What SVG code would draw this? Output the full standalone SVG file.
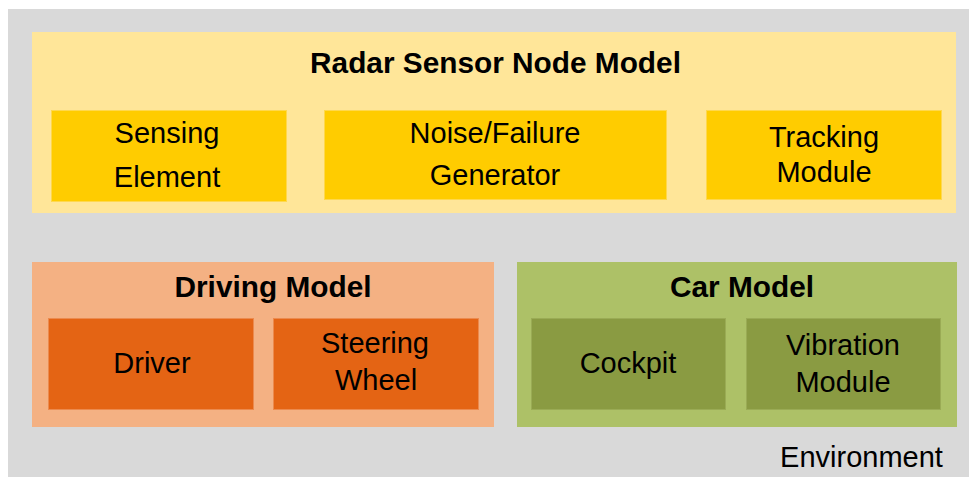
<svg xmlns="http://www.w3.org/2000/svg" width="969" height="477" viewBox="0 0 969 477">
  <style>
    text { font-family: "Liberation Sans", Arial, sans-serif; fill: #000; text-anchor: middle; }
    .title { font-size: 29.8px; font-weight: bold; }
    .label { font-size: 29px; }
    .env { fill: #d9d9d9; }
    .radar { fill: #ffe699; }
    .radar-part { fill: #ffcc00; stroke: #ffd84d; stroke-width: 1; }
    .driving { fill: #f4b183; }
    .driving-part { fill: #e46414; stroke: #ec8a4e; stroke-width: 1; }
    .car { fill: #adc167; }
    .car-part { fill: #8a9b42; stroke: #9aab55; stroke-width: 1; }
  </style>

  <!-- Environment backdrop -->
  <g id="environment">
    <rect class="env" x="8" y="9" width="961" height="468"/>
    <text class="label" x="861.5" y="467">Environment</text>
  </g>

  <!-- Radar sensor node -->
  <g id="radar-sensor-node-model">
    <rect class="radar" x="32" y="32" width="924" height="181"/>
    <text class="title" x="495.5" y="73">Radar Sensor Node Model</text>
  </g>
  <g id="sensing-element">
    <rect class="radar-part" x="51.5" y="110.5" width="235" height="91"/>
    <text class="label" x="167" y="143">Sensing</text>
    <text class="label" x="167" y="187">Element</text>
  </g>
  <g id="noise-failure-generator">
    <rect class="radar-part" x="324.5" y="110.5" width="342" height="89"/>
    <text class="label" x="495" y="143">Noise/Failure</text>
    <text class="label" x="495" y="185">Generator</text>
  </g>
  <g id="tracking-module">
    <rect class="radar-part" x="706.5" y="110.5" width="235" height="89"/>
    <text class="label" x="824" y="147">Tracking</text>
    <text class="label" x="824" y="182">Module</text>
  </g>

  <!-- Driving model -->
  <g id="driving-model">
    <rect class="driving" x="32" y="262" width="462" height="165"/>
    <text class="title" x="273" y="297">Driving Model</text>
  </g>
  <g id="driver">
    <rect class="driving-part" x="48.5" y="318.5" width="205" height="91"/>
    <text class="label" x="152" y="373">Driver</text>
  </g>
  <g id="steering-wheel">
    <rect class="driving-part" x="273.5" y="318.5" width="205" height="91"/>
    <text class="label" x="375" y="353">Steering</text>
    <text class="label" x="376" y="390">Wheel</text>
  </g>

  <!-- Car model -->
  <g id="car-model">
    <rect class="car" x="517" y="262" width="440" height="165"/>
    <text class="title" x="742" y="297">Car Model</text>
  </g>
  <g id="cockpit">
    <rect class="car-part" x="531.5" y="318.5" width="194" height="91"/>
    <text class="label" x="628" y="373">Cockpit</text>
  </g>
  <g id="vibration-module">
    <rect class="car-part" x="746.5" y="318.5" width="194" height="91"/>
    <text class="label" x="843" y="355">Vibration</text>
    <text class="label" x="843" y="392">Module</text>
  </g>

  <!-- no connectors in this diagram -->
  <g id="connectors"/>
</svg>
